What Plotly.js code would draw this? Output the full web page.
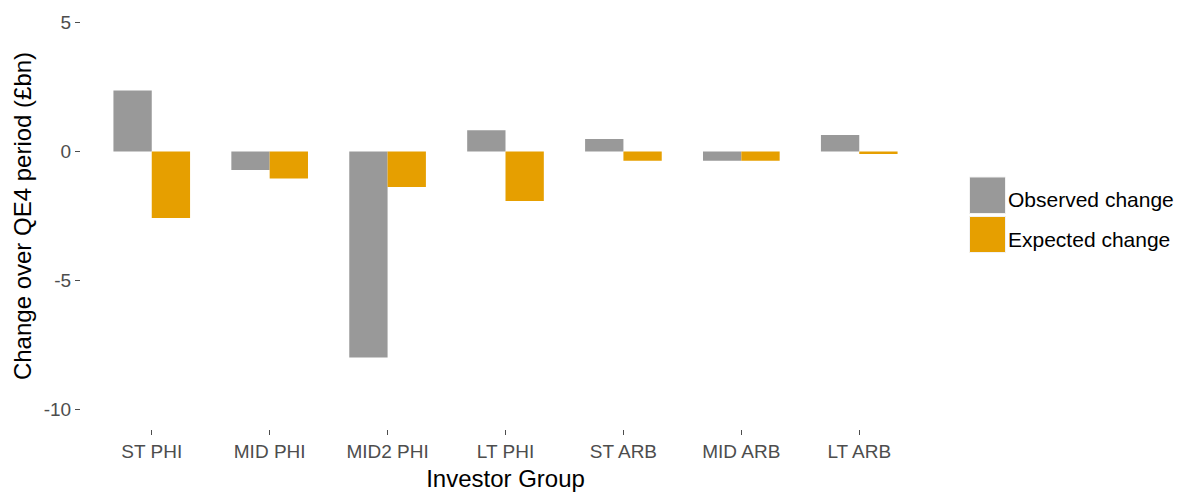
<!DOCTYPE html>
<html>
<head>
<meta charset="utf-8">
<script src="https://cdn.plot.ly/plotly-3.0.1.min.js"></script>
<style>
html, body { margin: 0; padding: 0; background: #ffffff; }
#chart { width: 1180px; height: 495px; }
</style>
</head>
<body>
<div id="chart"></div>
<script>
const categories = ["ST PHI", "MID PHI", "MID2 PHI", "LT PHI", "ST ARB", "MID ARB", "LT ARB"];
const observedChange = [2.36, -0.72, -7.98, 0.82, 0.48, -0.36, 0.64];
const expectedChange = [-2.58, -1.05, -1.38, -1.92, -0.36, -0.36, -0.10];
const seriesNames = ["Observed change", "Expected change"];
const seriesColors = ["#999999", "#E69F00"];
const yTickValues = [-10, -5, 0, 5];

const W = 1180, H = 495;
const plotLeft = 81, plotRight = 930, plotTop = 3, plotBottom = 429;
const px = x => (x - plotLeft) / (plotRight - plotLeft);
const py = y => (plotBottom - y) / (plotBottom - plotTop);

const font = "Liberation Sans, Arial, sans-serif";

const traces = [observedChange, expectedChange].map((vals, i) => ({
  type: "bar",
  x: categories,
  y: vals,
  name: seriesNames[i],
  marker: { color: seriesColors[i], line: { width: 0 } },
  showlegend: false,
  hoverinfo: "x+y+name"
}));

// legend drawn as keys + labels
const keyTops = [177, 216.5];
const keyBottoms = [213.5, 252.5];
const shapes = seriesNames.map((n, i) => ({
  type: "rect", xref: "paper", yref: "paper",
  x0: px(969.5), x1: px(1005.5), y0: py(keyBottoms[i]), y1: py(keyTops[i]),
  fillcolor: seriesColors[i], line: { color: "#f2f2f2", width: 1 }
}));
const annotations = seriesNames.map((n, i) => ({
  xref: "paper", yref: "paper",
  x: px(1006), y: py([199.5, 239.5][i]),
  xanchor: "left", yanchor: "middle",
  text: n, showarrow: false,
  font: { family: font, size: 21, color: "#000000" }
}));

const layout = {
  width: W, height: H,
  margin: { l: plotLeft, r: W - plotRight, t: plotTop, b: H - plotBottom, pad: 0 },
  paper_bgcolor: "#ffffff",
  plot_bgcolor: "#ffffff",
  barmode: "group",
  bargap: 0.35,
  bargroupgap: 0,
  showlegend: false,
  xaxis: {
    type: "category",
    range: [-0.6, 6.6],
    showgrid: false, zeroline: false, showline: false,
    ticks: "outside", ticklen: 5, tickwidth: 1, tickcolor: "#4d4d4d",
    tickfont: { family: font, size: 19, color: "#4d4d4d" },
    title: { text: "Investor Group", standoff: 9, font: { family: font, size: 24, color: "#000000" } },
    fixedrange: true
  },
  yaxis: {
    range: [-10.75, 5.75],
    tickvals: yTickValues,
    ticktext: yTickValues.map(String),
    showgrid: false, zeroline: false, showline: false,
    ticks: "outside", ticklen: 5, tickwidth: 1, tickcolor: "#4d4d4d",
    tickfont: { family: font, size: 19, color: "#4d4d4d" },
    title: { text: "Change over QE4 period (£bn)", standoff: 5, font: { family: font, size: 24, color: "#000000" } },
    fixedrange: true
  },
  shapes: shapes,
  annotations: annotations
};

Plotly.newPlot("chart", traces, layout, { displayModeBar: false, staticPlot: true });
</script>
</body>
</html>
